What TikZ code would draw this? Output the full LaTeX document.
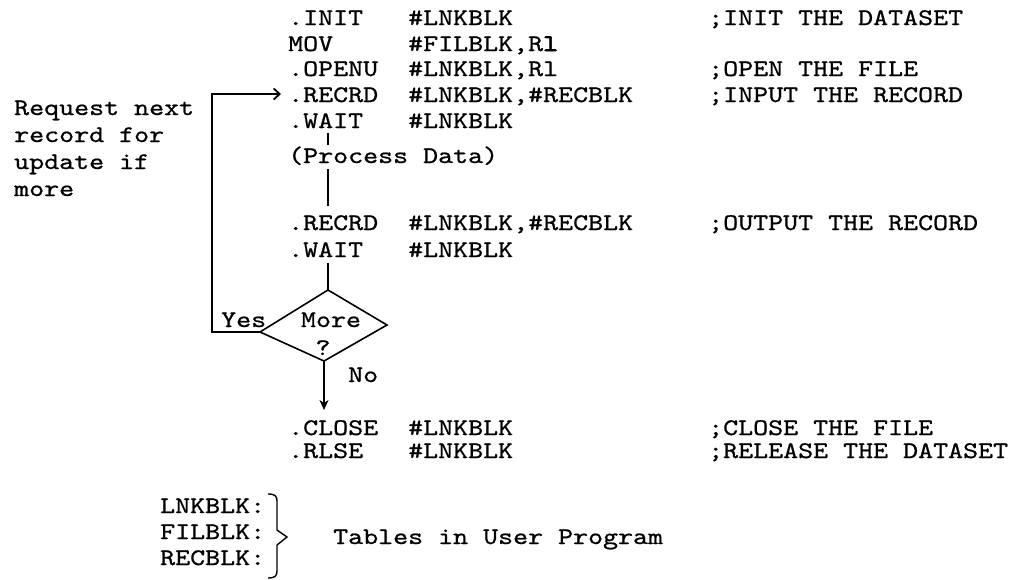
\documentclass[tikz,border=0pt]{standalone}
\usepackage{fontspec}
% typewriter face widened to a Courier-like pitch
\newfontfamily\tw{lmmono10-regular.otf}[FakeStretch=1.2,FakeBold=0.8]
\newfontfamily\twheavy{lmmono10-regular.otf}[FakeStretch=1.2,FakeBold=3]
\usetikzlibrary{arrows.meta}

\begin{document}
\begin{tikzpicture}[x=1pt,y=-1pt,
  code/.style={anchor=base west, inner sep=0pt, font=\tw\fontsize{23.8}{26}\selectfont},
  lbl/.style={anchor=base, inner sep=0pt, font=\tw\fontsize{23.8}{26}\selectfont},
  flow/.style={line width=1.6pt},
  intoarrow/.style={flow, -{Straight Barb[length=6pt,width=11pt,line width=1.8pt]}},
  downarrow/.style={flow, -{Stealth[length=10pt,width=9pt,inset=3pt]}},
]
\useasboundingbox (0,0) rectangle (1026,579);

% columns of the listing
\def\cop{288}\def\carg{408}\def\ccom{708}

% first group of calls
\node[code] (init)  at (\cop,25)  {.INIT};
\node[code] (inita) at (\carg,25) {\#LNKBLK};
\node[code] (initc) at (\ccom,25) {;INIT THE DATASET};
\node[code] (mov)   at (\cop,51)  {MOV};
\node[code] (mova)  at (\carg,51) {\#FILBLK,R{\twheavy l}};
\node[code] (open)  at (\cop,76)  {.OPENU};
\node[code] (opena) at (\carg,76) {\#LNKBLK,Rl};
\node[code] (openc) at (\ccom,76) {;OPEN THE FILE};
\node[code] (rin)   at (\cop,102) {.RECRD};
\node[code] (rina)  at (\carg,102){\#LNKBLK,\#RECBLK};
\node[code] (rinc)  at (\ccom,102){;INPUT THE RECORD};
\node[code] (w1)    at (\cop,128) {.WAIT};
\node[code] (w1a)   at (\carg,128){\#LNKBLK};

\node[code] (proc)  at (\cop,163) {(Process Data)};

% second group
\node[code] (rout)  at (\cop,230) {.RECRD};
\node[code] (routa) at (\carg,230){\#LNKBLK,\#RECBLK};
\node[code] (routc) at (\ccom,230){;OUTPUT THE RECORD};
\node[code] (w2)    at (\cop,257) {.WAIT};
\node[code] (w2a)   at (\carg,257){\#LNKBLK};

% closing calls
\node[code] (cls)   at (\cop,435) {.CLOSE};
\node[code] (clsa)  at (\carg,435){\#LNKBLK};
\node[code] (clsc)  at (\ccom,435){;CLOSE THE FILE};
\node[code] (rls)   at (\cop,458) {.RLSE};
\node[code] (rlsa)  at (\carg,458){\#LNKBLK};
\node[code] (rlsc)  at (\ccom,458){;RELEASE THE DATASET};

% note beside the loop
\node[code] (n1) at (14,115) {Request next};
\node[code] (n2) at (14,142) {record for};
\node[code] (n3) at (14,169) {update if};
\node[code] (n4) at (14,196) {more};

% decision
\coordinate (dl) at (260,332);
\coordinate (dt) at (328,290);
\coordinate (dr) at (387,325);
\coordinate (db) at (324,361);
\draw[flow, line join=miter] (dl) -- (dt) -- (dr) -- (db) -- cycle;
\node[lbl] (more) at (331,327) {More};
\node[lbl] (qm)   at (323,355) {?};
\node[code] (yes) at (221,327) {Yes};
\node[code] (no)  at (348,382) {No};

% flow lines down the listing
\coordinate (s1a) at (328,133);
\coordinate (s1b) at (328,145);
\coordinate (s2a) at (328,169);
\coordinate (s2b) at (328,206);
\coordinate (s3a) at (328,263);
\draw[flow] (s1a) -- (s1b);
\draw[flow] (s2a) -- (s2b);
\draw[flow] (s3a) -- (dt);

% loop back for the next record
\coordinate (lb) at (212,332);
\coordinate (lt) at (212,94);
\coordinate (ltip) at (281,94);
\draw[intoarrow] (dl) -- (lb) -- (lt) -- (ltip);

% exit when no more records
\coordinate (xtip) at (324,410);
\draw[downarrow] (db) -- (xtip);

% tables
\node[code] (t1) at (160,513) {LNKBLK:};
\node[code] (t2) at (160,539) {FILBLK:};
\node[code] (t3) at (160,565) {RECBLK:};
\draw[line width=1.4pt, line join=miter]
  (268,494) .. controls (275,494) and (277,496) .. (277,501)
  -- (277,530) -- (287,537) -- (277,545) -- (277,571)
  .. controls (277,576) and (275,578) .. (268,578);
\node[code] (tab) at (333,544) {Tables in User Program};
\end{tikzpicture}
\end{document}
